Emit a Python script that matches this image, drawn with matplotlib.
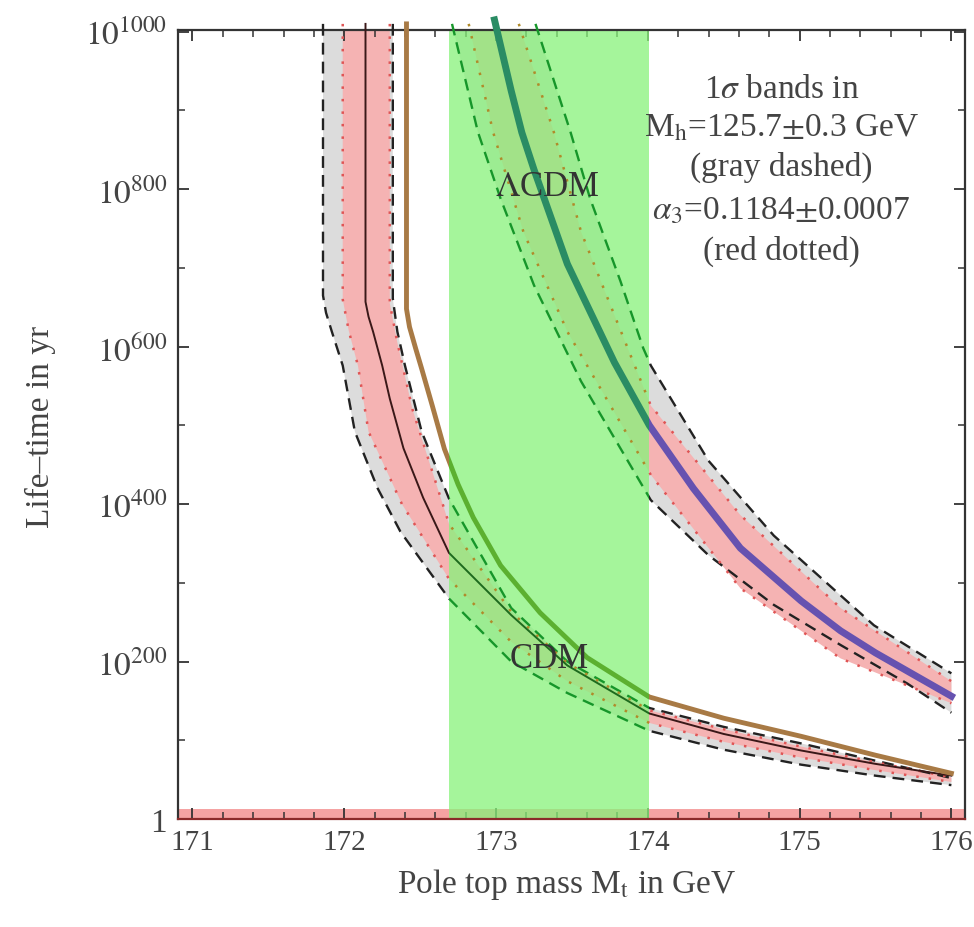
import numpy as np
import matplotlib
matplotlib.use("Agg")
import matplotlib.pyplot as plt
from matplotlib.patches import Rectangle

plt.rcParams['font.family'] = ['Liberation Serif', 'DejaVu Serif']
plt.rcParams['mathtext.fontset'] = 'stix'

# ---- data: exponent of the life-time (log10 yr) vs pole top mass (GeV) ----
# CDM family
cdm_mid_x = [172.14, 172.14, 172.16, 172.19, 172.25, 172.30, 172.36, 172.39, 172.52, 172.69, 173.10, 173.47, 174.01, 174.50, 175.01, 175.50, 176.0]
cdm_mid_y = [1010, 657, 638, 619, 576, 534, 492, 471, 408, 338, 259, 195, 134, 108, 87, 70, 55]
cdm_top_x = [172.41, 172.41, 172.43, 172.47, 172.51, 172.58, 172.66, 172.75, 172.85, 173.03, 173.29, 173.60, 174.01, 174.50, 175.01, 175.50, 176.0]
cdm_top_y = [1010, 648, 625, 598, 572, 525, 470, 425, 383, 322, 262, 205, 155, 128, 105, 81, 58]
cdm_dash_lo_x = [171.86, 171.86, 171.88, 171.92, 171.99, 172.07, 172.22, 172.37, 172.69, 173.10, 173.47, 174.01, 174.50, 175.01, 175.50, 176.0]
cdm_dash_lo_y = [1010, 665, 643, 618, 576, 492, 420, 365, 280, 200, 160, 112, 88, 69, 55, 43]
cdm_dash_hi_x = [172.32, 172.32, 172.35, 172.40, 172.51, 172.69, 173.10, 173.47, 174.01, 174.50, 175.01, 175.50, 176.0]
cdm_dash_hi_y = [1010, 661, 619, 576, 492, 407, 268, 200, 141, 117, 96, 74, 52]
cdm_dot_lo_x = [171.99, 171.99, 172.03, 172.09, 172.16, 172.38, 172.69, 173.10, 173.47, 174.01, 174.50, 175.01, 175.50, 176.0]
cdm_dot_lo_y = [1010, 660, 620, 576, 492, 400, 305, 225, 175, 122, 98, 78, 62, 47]
cdm_dot_hi_x = [172.30, 172.30, 172.35, 172.45, 172.69, 173.10, 173.47, 174.01, 174.50, 175.01, 175.50, 176.0]
cdm_dot_hi_y = [1010, 655, 605, 520, 375, 263, 198, 138, 114, 92, 72, 53]

# Lambda-CDM family
lcdm_mid_x = [172.99, 173.10, 173.17, 173.25, 173.47, 173.78, 174.01, 174.30, 174.61, 175.01, 175.27, 175.50, 176.0]
lcdm_mid_y = [1015, 925, 872, 825, 705, 580, 500, 420, 344, 277, 239, 211, 156]
lcdm_dash_lo_x = [172.71, 172.88, 173.03, 173.25, 173.56, 174.02, 174.40, 174.83, 175.27, 175.71, 176.0]
lcdm_dash_lo_y = [1010, 873, 788, 678, 556, 405, 335, 272, 221, 172, 135]
lcdm_dash_hi_x = [173.26, 173.49, 173.62, 173.82, 173.97, 174.02, 174.40, 174.83, 175.49, 176.0]
lcdm_dash_hi_y = [1010, 873, 788, 683, 598, 576, 455, 360, 246, 185]
lcdm_dot_lo_x = [172.82, 172.98, 173.18, 173.47, 174.02, 174.61, 175.27, 176.0]
lcdm_dot_lo_y = [1010, 873, 746, 619, 437, 293, 204, 147]
lcdm_dot_hi_x = [173.15, 173.38, 173.56, 173.78, 174.02, 174.61, 175.27, 176.0]
lcdm_dot_hi_y = [1010, 873, 746, 640, 525, 386, 268, 175]

band_mt = [172.69, 174.01]   # measured top mass band
y_ticks = [0, 200, 400, 600, 800, 1000]
x_ticks = [171, 172, 173, 174, 175, 176]

note_lines = [r'1$\sigma$ bands in',
              r'M$_{\rm h}$=125.7$\pm$0.3 GeV',
              '(gray dashed)',
              r'$\alpha_3$=0.1184$\pm$0.0007',
              '(red dotted)']

fig = plt.figure(figsize=(9.74, 9.28), dpi=100)
ax = fig.add_axes([0.1828, 0.1164, 0.808, 0.850])
ax.set_xlim(170.905, 176.09)
ax.set_ylim(0, 1002)


def band(ax, xlo, ylo, xhi, yhi, color):
    ax.fill(np.r_[xlo, xhi[::-1]], np.r_[ylo, yhi[::-1]], color=color, lw=0, zorder=1)


def split_line(ax, x, y, out_kw, in_kw):
    # draw a curve with one style outside the green band and another inside
    x0, x1 = ax.get_xlim()
    for a, b, kw in [(x0, band_mt[0], out_kw), (band_mt[0], band_mt[1], in_kw), (band_mt[1], x1, out_kw)]:
        ln, = ax.plot(x, y, solid_joinstyle='round', **kw)
        ln.set_clip_path(Rectangle((a, -100), b - a, 1300, transform=ax.transData))


gray_fill = '#dcdcdc'
pink_fill = '#f5b3b3'
dash_out = dict(color='#222222', lw=1.7, ls=(0, (5, 3)), zorder=3)
dash_in = dict(color='#16962a', lw=1.7, ls=(0, (5, 3)), zorder=3)
dot_out = dict(color='#e05555', lw=1.8, ls=(0, (1, 4)), zorder=3)
dot_in = dict(color='#b08a2a', lw=1.8, ls=(0, (1, 4)), zorder=3)

for lo_x, lo_y, hi_x, hi_y, dlo_x, dlo_y, dhi_x, dhi_y in [
        (cdm_dash_lo_x, cdm_dash_lo_y, cdm_dash_hi_x, cdm_dash_hi_y,
         cdm_dot_lo_x, cdm_dot_lo_y, cdm_dot_hi_x, cdm_dot_hi_y),
        (lcdm_dash_lo_x, lcdm_dash_lo_y, lcdm_dash_hi_x, lcdm_dash_hi_y,
         lcdm_dot_lo_x, lcdm_dot_lo_y, lcdm_dot_hi_x, lcdm_dot_hi_y)]:
    band(ax, lo_x, lo_y, hi_x, hi_y, gray_fill)
    band(ax, dlo_x, dlo_y, dhi_x, dhi_y, pink_fill)
    split_line(ax, lo_x, lo_y, dash_out, dash_in)
    split_line(ax, hi_x, hi_y, dash_out, dash_in)
    split_line(ax, dlo_x, dlo_y, dot_out, dot_in)
    split_line(ax, dhi_x, dhi_y, dot_out, dot_in)

# red strip at the bottom and the green measured band
ax.axhspan(0, 13, color='#f5a3a3', lw=0, zorder=1)
ax.axvspan(band_mt[0], band_mt[1], color='#87f27a', alpha=0.75, lw=0, zorder=2)

split_line(ax, cdm_mid_x, cdm_mid_y,
           dict(color='#3a1818', lw=1.4, zorder=4), dict(color='#1e6a1e', lw=1.4, zorder=4))
split_line(ax, cdm_top_x, cdm_top_y,
           dict(color='#a87a45', lw=3.5, zorder=4), dict(color='#5cb030', lw=3.5, zorder=4))
split_line(ax, lcdm_mid_x, lcdm_mid_y,
           dict(color='#6652b0', lw=5, zorder=4), dict(color='#2a8c64', lw=5, zorder=4))

ax.text(173.34, 803, r'$\Lambda$CDM', fontsize=25, color='#333333', ha='center', va='center', zorder=5)
ax.text(173.35, 204, 'CDM', fontsize=25, color='#333333', ha='center', va='center', zorder=5)

for y, line in zip([928, 879, 829, 773, 722], note_lines):
    ax.text(174.88, y, line, fontsize=24, color='#444444', ha='center', va='center', zorder=5)

# axes cosmetics
ax.set_xticks(x_ticks)
ax.set_xticklabels([str(v) for v in x_ticks])
ax.set_yticks(y_ticks)
ax.set_yticklabels(['1'] + [r'$10^{%d}$' % v for v in y_ticks[1:]])
ax.set_xticks(np.arange(171, 176.01, 0.2), minor=True)
ax.set_yticks(np.arange(0, 1001, 100), minor=True)
ax.tick_params(which='both', direction='in', top=True, right=True, colors='#333333',
               labelcolor='#444444')
ax.tick_params(axis='x', labelsize=21, pad=7)
ax.tick_params(axis='y', labelsize=24, pad=8)
ax.tick_params(which='major', length=8, width=1.3)
ax.tick_params(which='minor', length=5, width=1.1)
for s in ax.spines.values():
    s.set_color('#333333')
    s.set_linewidth(1.6)
ax.spines['bottom'].set_color('#8b2a2a')

fig.text(567 / 974, 1 - 885 / 928, r'Pole top mass M$_{\rm t}$ in GeV', fontsize=24,
         color='#444444', ha='center', va='center')
fig.text(40 / 974, 1 - 427 / 928, 'Life–time in yr', fontsize=24, rotation=90,
         color='#444444', ha='center', va='center')

fig.savefig('out.png', dpi=100)
